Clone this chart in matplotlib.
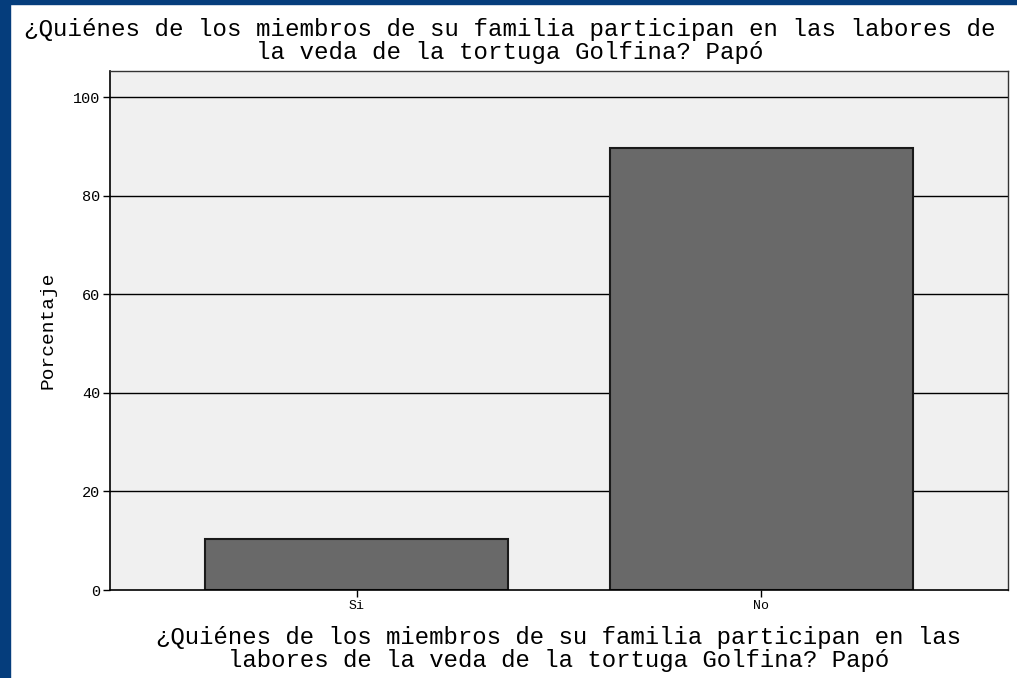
import matplotlib
matplotlib.use("Agg")
import matplotlib.pyplot as plt
from matplotlib.patches import Rectangle

categories = ["Si", "No"]
values = [10.3, 89.7]
yticks = [0, 20, 40, 60, 80, 100]
title = "¿Quiénes de los miembros de su familia participan en las labores de\nla veda de la tortuga Golfina? Papó"
xlabel = "¿Quiénes de los miembros de su familia participan en las\nlabores de la veda de la tortuga Golfina? Papó"
ylabel = "Porcentaje"

W, H = 1017, 678
fig = plt.figure(figsize=(W/100, H/100), dpi=100)
fig.patch.set_facecolor("white")
blue = "#053d7c"
fig.patches.append(Rectangle((0, 0), 10/W, 1, transform=fig.transFigure, color=blue, zorder=-1))
fig.patches.append(Rectangle((0, 1-4/H), 1, 4/H, transform=fig.transFigure, color=blue, zorder=-1))

left, right, top, bottom = 110, 1008, 71, 590
ax = fig.add_axes([left/W, 1-bottom/H, (right-left)/W, (bottom-top)/H])
ax.set_facecolor("#f0f0f0")
x = list(range(len(categories)))
ax.set_xlim(-0.61, 1.61)
ax.set_ylim(0, 105.3)
for t in yticks[1:]:
    ax.axhline(t, color="black", lw=1.0, zorder=1)
ax.bar(x, values, width=0.75, color="#696969", edgecolor="#1a1a1a", lw=1.5, zorder=2)
ax.set_xticks(x)
ax.set_xticklabels(categories, family="Liberation Mono", fontsize=9.5)
ax.set_yticks(yticks)
ax.set_yticklabels([str(t) for t in yticks], family="Liberation Mono", fontsize=11)
ax.tick_params(axis="both", direction="out", length=5, width=1, color="black", pad=2)
for s in ax.spines.values():
    s.set_color("#333333")
    s.set_linewidth(1.0)
ax.spines["left"].set_color("black")
ax.spines["bottom"].set_color("black")
ax.spines["left"].set_linewidth(1.2)
ax.spines["bottom"].set_linewidth(1.2)
ax.set_ylabel(ylabel, family="Liberation Mono", fontsize=14, labelpad=12)

fig.text(510/W, 1-41/H, title, ha="center", va="center", family="Liberation Mono",
         fontsize=17.4, linespacing=1.0)
fig.text(559/W, 1-649/H, xlabel, ha="center", va="center", family="Liberation Mono",
         fontsize=17.3, linespacing=0.95)

fig.savefig("out.png", dpi=100)
